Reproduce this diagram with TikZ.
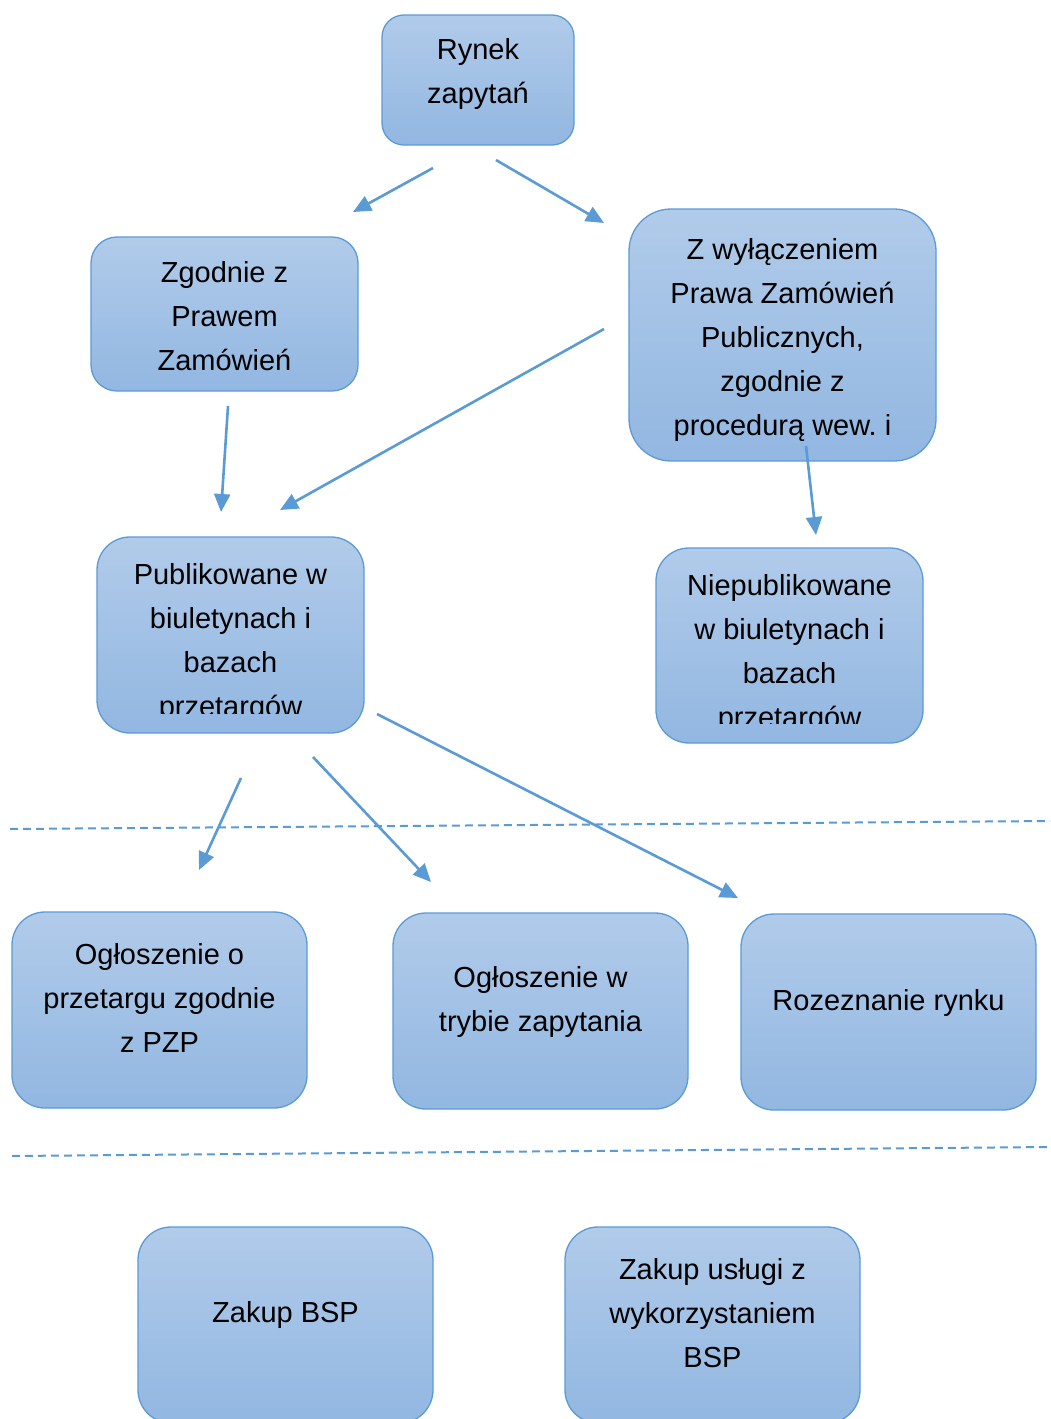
\documentclass[tikz,border=0pt]{standalone}
\usepackage{fontspec}
\setmainfont{Liberation Sans}
\usetikzlibrary{arrows.meta}
\definecolor{bord}{RGB}{91,155,213}
\definecolor{topc}{RGB}{177,203,234}
\definecolor{botc}{RGB}{146,183,225}
\newcommand\mylines[1]{\begin{tabular}[t]{@{}c@{}}#1\end{tabular}}
\begin{document}
\begin{tikzpicture}[x=1pt,y=-1pt,
  box/.style={draw=bord, line width=1.3pt, top color=topc, bottom color=botc, inner sep=0pt},
  txt/.style={anchor=base, inner sep=0pt, font=\fontsize{29}{44}\selectfont},
  arr/.style={draw=bord, line width=2.6pt, -{Triangle[length=18pt,width=16pt]}},
  sep/.style={draw=bord, line width=2pt, dash pattern=on 8pt off 5pt}]
\clip (0,0) rectangle (1050,1419);
\fill[white] (0,0) rectangle (1050,1419);
% boxes
\node[box, minimum width=192pt, minimum height=130pt, rounded corners=22pt] (ryn) at (478,80) {};
\node[box, minimum width=267pt, minimum height=154pt, rounded corners=26pt] (zg) at (224.5,314) {};
\node[box, minimum width=307pt, minimum height=252pt, rounded corners=42pt] (zw) at (782.5,335) {};
\node[box, minimum width=267pt, minimum height=196pt, rounded corners=33pt] (pub) at (230.5,635) {};
\node[box, minimum width=267pt, minimum height=195pt, rounded corners=33pt] (npub) at (789.5,645.5) {};
\node[box, minimum width=295pt, minimum height=196pt, rounded corners=33pt] (og1) at (159.5,1010) {};
\node[box, minimum width=295pt, minimum height=196pt, rounded corners=33pt] (og2) at (540.5,1011) {};
\node[box, minimum width=295pt, minimum height=196pt, rounded corners=33pt] (roz) at (888.5,1012) {};
\node[box, minimum width=295pt, minimum height=196pt, rounded corners=33pt] (bsp) at (285.5,1325) {};
\node[box, minimum width=295pt, minimum height=196pt, rounded corners=33pt] (usl) at (712.5,1325) {};
% texts
\node[txt] (tryn) at (478,59) {\mylines{Rynek\\zapytań}};
\node[txt] (tzg) at (224.5,282) {\mylines{Zgodnie z\\Prawem\\Zamówień}};
\node[txt] (tzw) at (782.5,259) {\mylines{Z wyłączeniem\\Prawa Zamówień\\Publicznych,\\zgodnie z\\procedurą wew.\ i}};
\begin{scope}
  \clip (97,537) rectangle (364,713);
  \node[txt] (tpub) at (230.5,584) {\mylines{Publikowane w\\biuletynach i\\bazach\\przetargów}};
\end{scope}
\begin{scope}
  \clip (656,548) rectangle (923,723);
  \node[txt] (tnpub) at (789.5,595) {\mylines{Niepublikowane\\w biuletynach i\\bazach\\przetargów}};
\end{scope}
\node[txt] (tog1) at (159.5,964) {\mylines{Ogłoszenie o\\przetargu zgodnie\\z PZP}};
\node[txt] (tog2) at (540.5,987) {\mylines{Ogłoszenie w\\trybie zapytania}};
\node[txt] (troz) at (888.5,1010) {Rozeznanie rynku};
\node[txt] (tbsp) at (285.5,1322) {Zakup BSP};
\node[txt] (tusl) at (712.5,1279) {\mylines{Zakup usługi z\\wykorzystaniem\\BSP}};
% arrow end points
\coordinate (a1s) at (433,168); \coordinate (a1e) at (353,212);
\coordinate (a2s) at (496,160); \coordinate (a2e) at (604,223);
\coordinate (a3s) at (604,329); \coordinate (a3e) at (280,510);
\coordinate (a4s) at (228,406); \coordinate (a4e) at (221,512);
\coordinate (a5s) at (806,446); \coordinate (a5e) at (816,535);
\coordinate (a6s) at (241,778); \coordinate (a6e) at (199,870);
\coordinate (a7s) at (313,757); \coordinate (a7e) at (431,882);
\coordinate (a8s) at (377,714); \coordinate (a8e) at (738,898);
\draw[arr] (a1s) -- (a1e);
\draw[arr] (a2s) -- (a2e);
\draw[arr] (a3s) -- (a3e);
\draw[arr] (a4s) -- (a4e);
\draw[arr] (a5s) -- (a5e);
\draw[arr] (a6s) -- (a6e);
\draw[arr] (a7s) -- (a7e);
\draw[arr] (a8s) -- (a8e);
% separators
\coordinate (d1s) at (10,829); \coordinate (d1e) at (1050,821);
\coordinate (d2s) at (12,1156); \coordinate (d2e) at (1050,1147);
\draw[sep] (d1s) -- (d1e);
\draw[sep] (d2s) -- (d2e);
\end{tikzpicture}
\end{document}
